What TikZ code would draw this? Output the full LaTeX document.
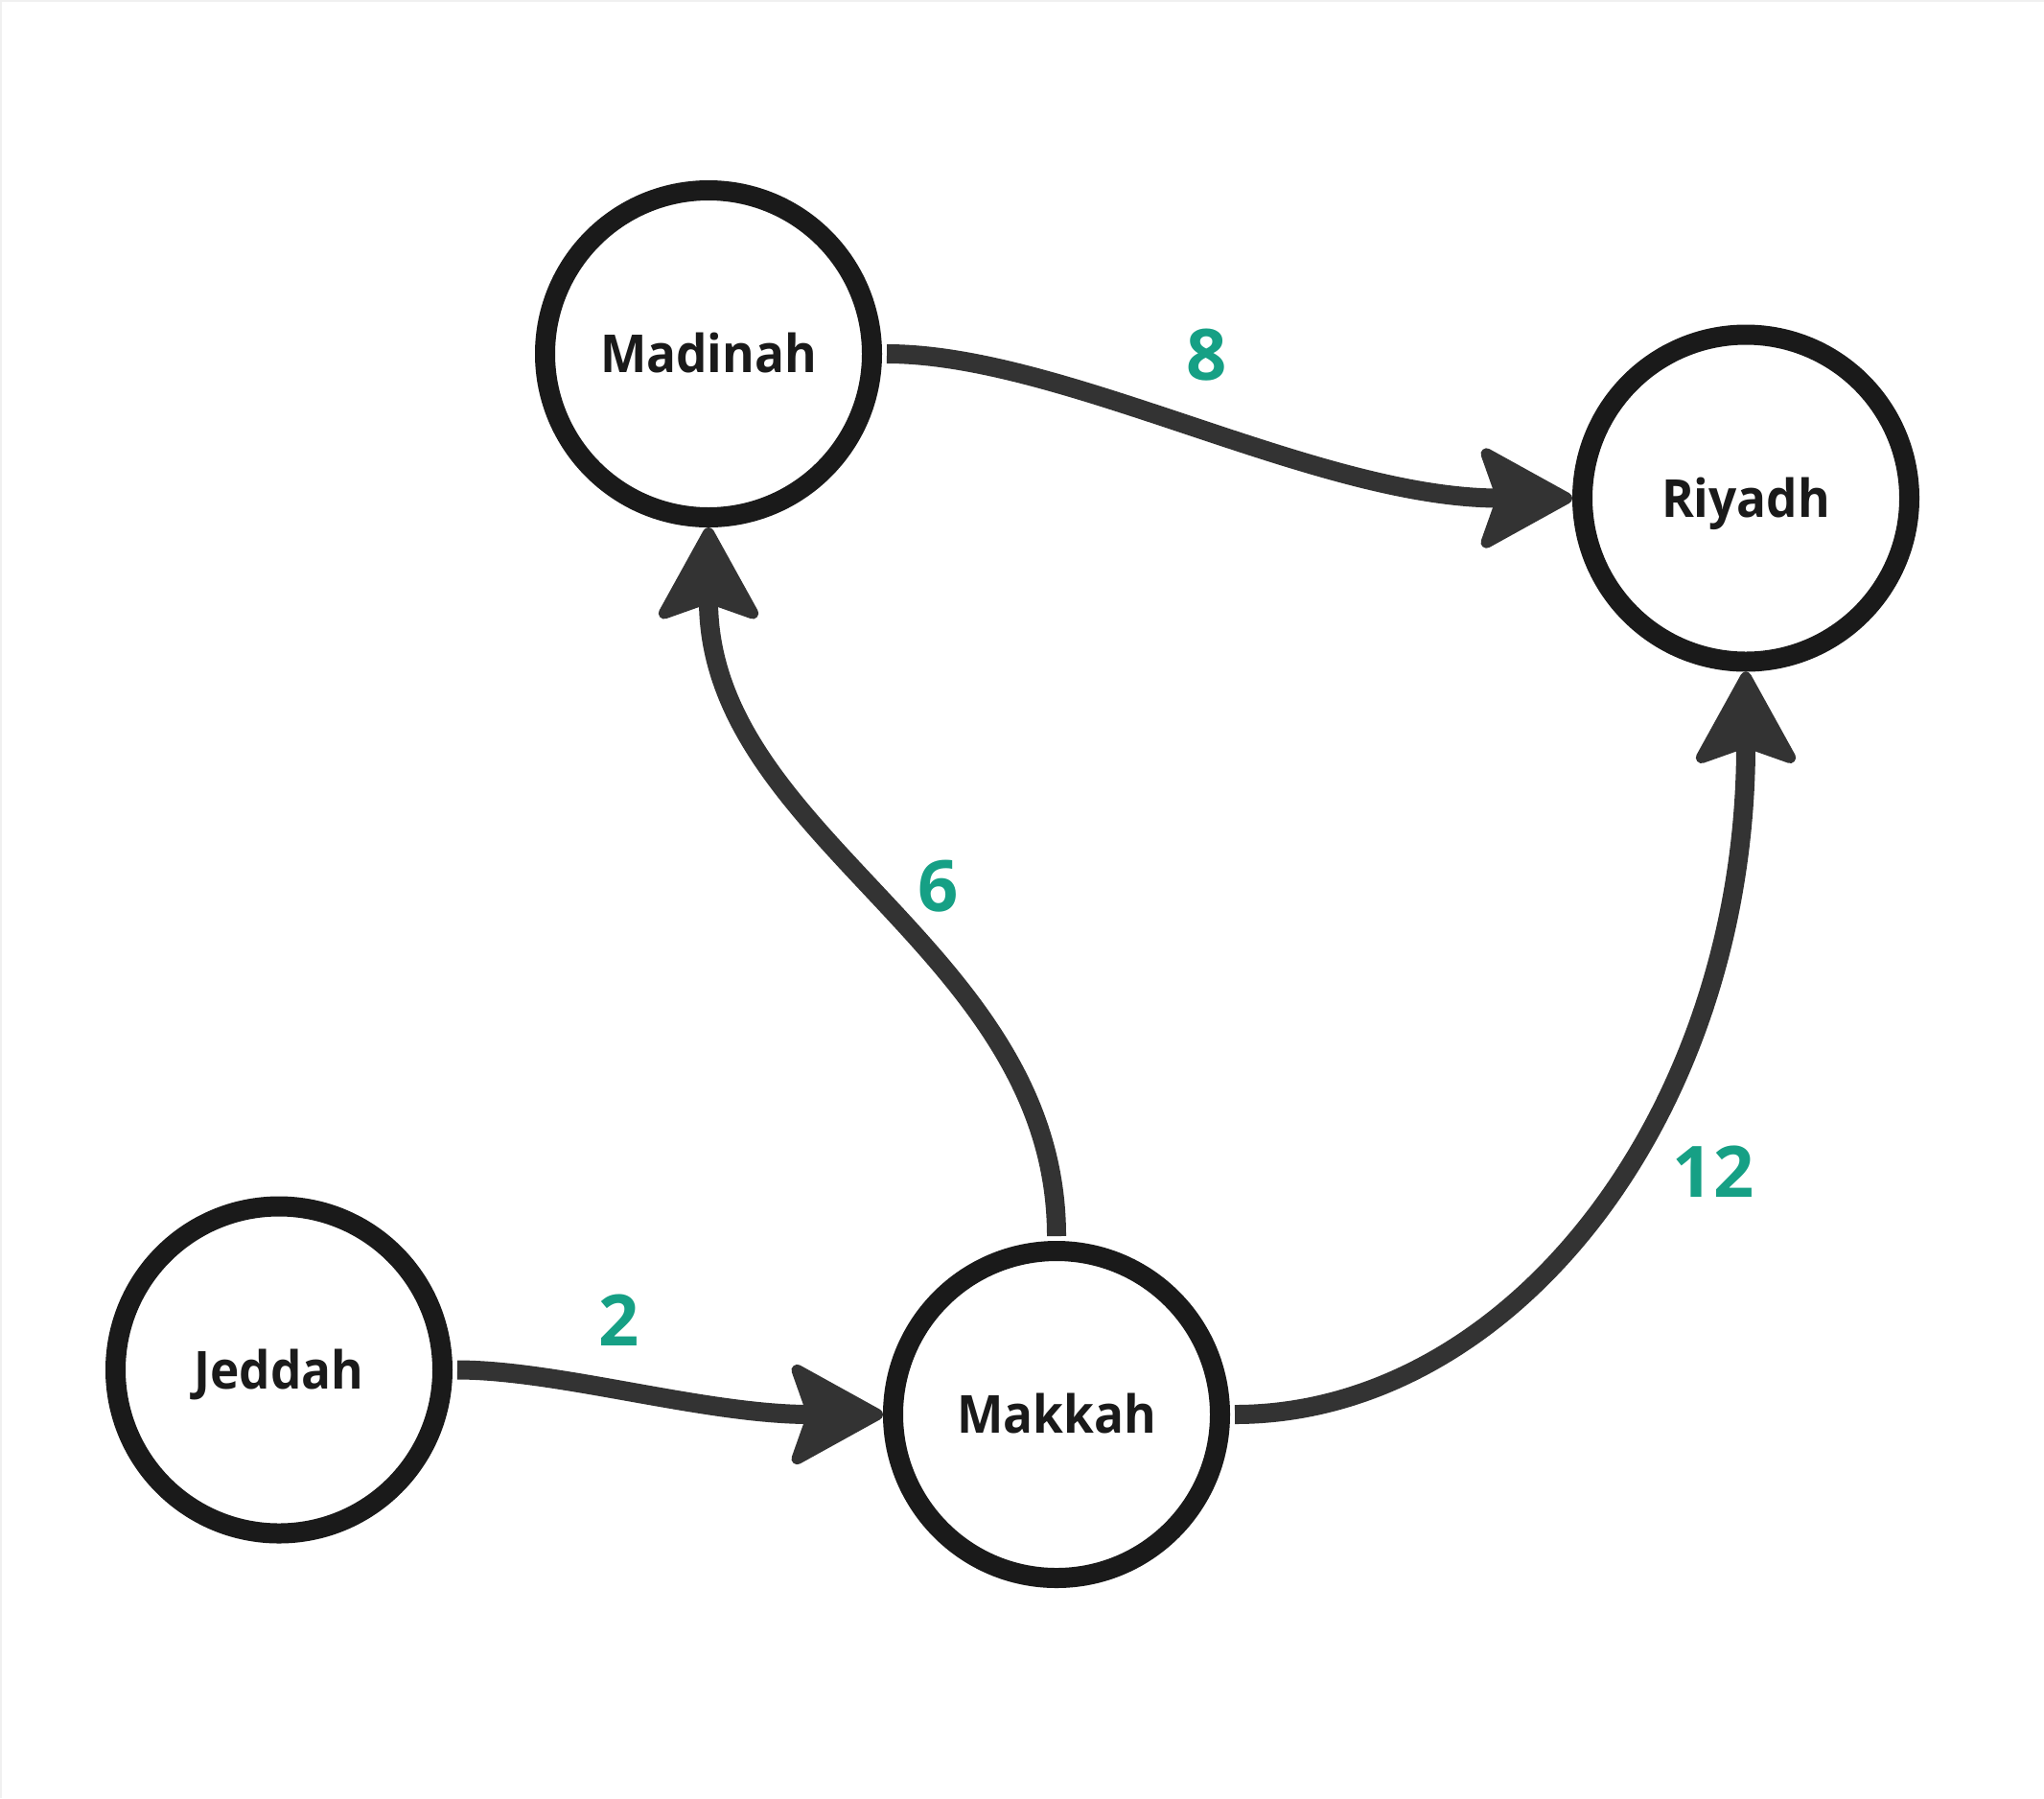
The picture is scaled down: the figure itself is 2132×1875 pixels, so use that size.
\documentclass[tikz,border=0pt]{standalone}
\usepackage{fontspec}
\setmainfont{Open Sans}
\newfontfamily\cityfont{Open Sans}[FakeStretch=0.94]
\usetikzlibrary{arrows.meta}
\definecolor{ringcol}{HTML}{1A1A1A}
\definecolor{edgecol}{HTML}{333333}
\definecolor{wcol}{HTML}{16A085}
\begin{document}
\begin{tikzpicture}[x=1pt,y=-1pt,
  city/.style={circle, draw=ringcol, line width=21pt, fill=white, minimum size=341pt, inner sep=0pt,
    font=\cityfont\fontsize{54.6}{60}\selectfont\bfseries, text=ringcol, text height=39pt, text depth=0pt},
  weight/.style={font=\fontsize{74}{80}\selectfont\bfseries, text=wcol, inner sep=0pt, text height=53pt, text depth=0pt},
  road/.style={draw=edgecol, line width=20pt, shorten <=5pt,
    -{Stealth[length=106pt, width=116pt, inset=20pt, round, line width=12pt]}}]
\useasboundingbox (0,0) rectangle (2132,1875);
\fill[white] (0,0) rectangle (2132,1875);
\draw[black!6, line width=1.5pt] (1,1875) -- (1,1) -- (2132,1);
\node[city] (mad) at (739,369) {Madinah};
\node[city] (riy) at (1821,519.5) {Riyadh};
\node[city] (jed) at (291,1428.5) {Jeddah};
\node[city] (mak) at (1102,1475) {Makkah};
\draw[road] (mad.east) .. controls +(190,0) and +(-267,0) .. (riy.west);
\draw[road] (mak.north) .. controls +(0,-305) and +(0,326) .. (mad.south);
\draw[road] (mak.east) .. controls +(293,0) and +(0,461) .. (riy.south);
\draw[road] (jed.east) .. controls +(110,0) and +(-186,0) .. (mak.west);
\node[weight] (w8) at (1259,370) {8};
\node[weight] (w6) at (979,924) {6};
\node[weight] (w12) at (1787,1222) {12};
\node[weight] (w2) at (646,1377) {2};
\end{tikzpicture}
\end{document}
